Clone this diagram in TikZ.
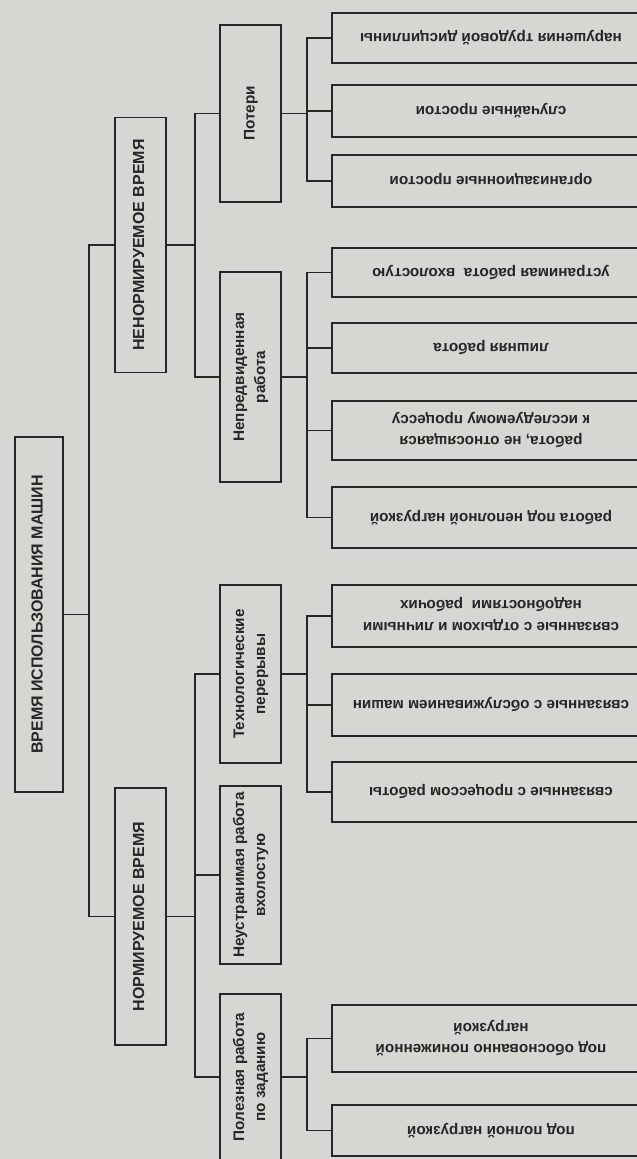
\documentclass[tikz,border=0pt]{standalone}
\usepackage{fontspec}
\usepackage{graphicx}
\setmainfont{Liberation Sans}
\definecolor{bg}{RGB}{214,214,211}
\definecolor{ink}{RGB}{38,38,38}
\newcommand{\vtxt}[1]{\rotatebox{90}{\begin{tabular}{@{}c@{}}#1\end{tabular}}}
\newcommand{\utxt}[1]{\rotatebox{180}{\begin{tabular}{@{}c@{}}#1\end{tabular}}}
\tikzset{
  box/.style={draw=ink, line width=1.8pt, fill=bg, inner sep=0pt, text=ink, font=\bfseries},
  topbox/.style={box, font=\bfseries\fontsize{16}{18}\selectfont},
  midbox/.style={box, minimum width=61pt, font=\bfseries\fontsize{15.3}{21}\selectfont},
  rbox/.style={box, minimum width=318pt, font=\bfseries\fontsize{15.3}{21.5}\selectfont},
  link/.style={draw=ink, line width=1.8pt}
}
\begin{document}
\begin{tikzpicture}[x=1pt,y=-1pt]
\fill[bg] (0,0) rectangle (637,1159);
\useasboundingbox (0,0) rectangle (637,1159);
% bus coordinates
\coordinate (b0) at (89,0);
\coordinate (b1) at (195,0);
\coordinate (b2) at (307,0);
% root and level 1
\node[topbox, minimum width=48pt, minimum height=355pt] (root) at (39,614.5) {\vtxt{ВРЕМЯ ИСПОЛЬЗОВАНИЯ МАШИН}};
\node[topbox, minimum width=51pt, minimum height=255pt] (nenorm) at (140.5,245) {\vtxt{НЕНОРМИРУЕМОЕ ВРЕМЯ}};
\node[topbox, minimum width=51pt, minimum height=257pt] (norm) at (140.5,916.5) {\vtxt{НОРМИРУЕМОЕ ВРЕМЯ}};
% level 2
\node[midbox, minimum height=177pt] (pot) at (250.5,113.5) {\vtxt{Потери}};
\node[midbox, minimum height=210pt] (nepr) at (250.5,377) {\vtxt{Непредвиденная\\работа}};
\node[midbox, minimum height=178pt] (tech) at (250.5,674) {\vtxt{Технологические\\перерывы}};
\node[midbox, minimum height=178pt] (neust) at (250.5,875) {\vtxt{Неустранимая работа\\вхолостую}};
\node[midbox, minimum height=166pt] (polez) at (250.5,1077) {\vtxt{Полезная работа\\по заданию}};
% level 3
\node[rbox, minimum height=50pt] (r1) at (491,38) {\utxt{нарушения трудовой дисциплины}};
\node[rbox, minimum height=52pt] (r2) at (491,111) {\utxt{случайные простои}};
\node[rbox, minimum height=52pt] (r3) at (491,181) {\utxt{организационные простои}};
\node[rbox, minimum height=49pt] (r4) at (491,272.5) {\utxt{устранимая работа\ \ вхолостую}};
\node[rbox, minimum height=50pt] (r5) at (491,348) {\utxt{лишняя работа}};
\node[rbox, minimum height=59pt] (r6) at (491,430.5) {\utxt{работа, не относящаяся\\к исследуемому процессу}};
\node[rbox, minimum height=61pt] (r7) at (491,517.5) {\utxt{работа под неполной нагрузкой}};
\node[rbox, minimum height=62pt] (r8) at (491,616) {\utxt{связанные с отдыхом и личными\\надобностями\ \ рабочих}};
\node[rbox, minimum height=62pt] (r9) at (491,705) {\utxt{связанные с обслуживанием машин}};
\node[rbox, minimum height=60pt] (r10) at (491,792) {\utxt{связанные с процессом работы}};
\node[rbox, minimum height=67pt] (r11) at (491,1038.5) {\utxt{под обоснованно пониженной\\нагрузкой}};
\node[rbox, minimum height=51pt] (r12) at (491,1130.5) {\utxt{под полной нагрузкой}};
% connectors: root
\draw[link] (root.east) -- (root.east -| b0);
\draw[link] (nenorm.west) -| (b0 |- norm.west) -- (norm.west);
% nenorm
\draw[link] (nenorm.east) -- (nenorm.east -| b1);
\draw[link] (pot.west) -| (b1 |- nepr.west) -- (nepr.west);
% norm
\draw[link] (norm.east) -- (norm.east -| b1);
\draw[link] (tech.west) -| (b1 |- polez.west) -- (polez.west);
\draw[link] (neust.west) -- (neust.west -| b1);
% pot
\draw[link] (pot.east) -- (pot.east -| b2);
\draw[link] (r1.west) -| (b2 |- r3.west) -- (r3.west);
\draw[link] (r2.west) -- (r2.west -| b2);
% nepr
\draw[link] (nepr.east) -- (nepr.east -| b2);
\draw[link] (r4.west) -| (b2 |- r7.west) -- (r7.west);
\draw[link] (r5.west) -- (r5.west -| b2);
\draw[link] (r6.west) -- (r6.west -| b2);
% tech
\draw[link] (tech.east) -- (tech.east -| b2);
\draw[link] (r8.west) -| (b2 |- r10.west) -- (r10.west);
\draw[link] (r9.west) -- (r9.west -| b2);
% polez
\draw[link] (polez.east) -- (polez.east -| b2);
\draw[link] (r11.west) -| (b2 |- r12.west) -- (r12.west);
\end{tikzpicture}
\end{document}
